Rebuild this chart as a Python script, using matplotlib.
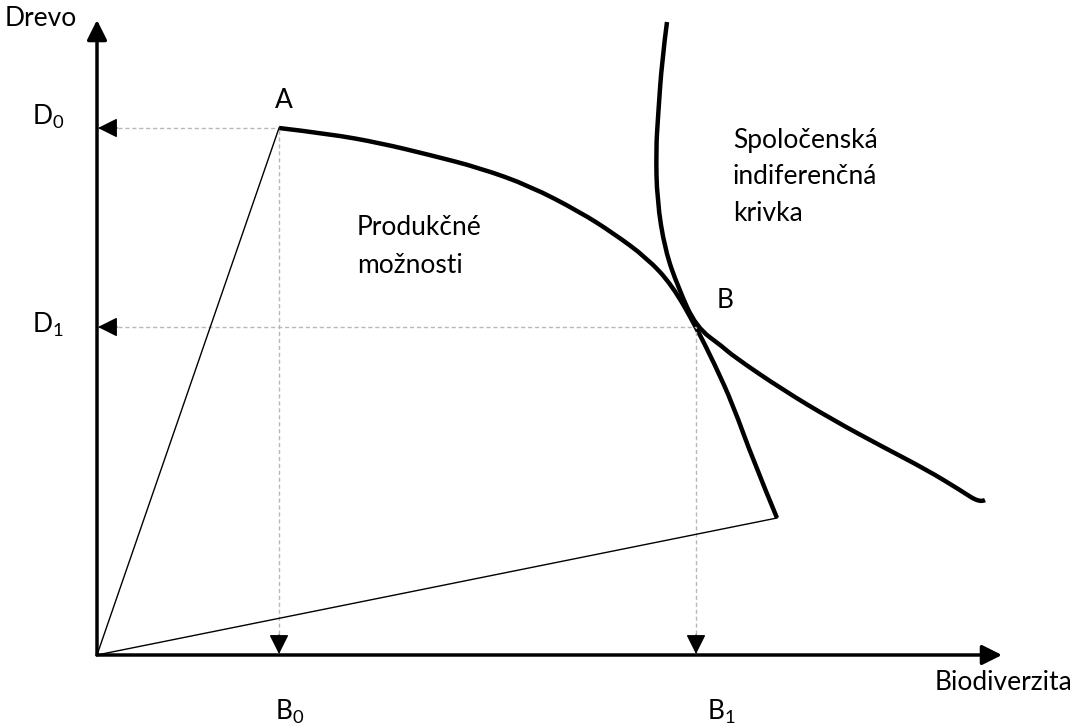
import matplotlib
matplotlib.use("Agg")
import matplotlib.pyplot as plt
from matplotlib.path import Path
from matplotlib.patches import PathPatch

plt.rcParams["font.family"] = ["Lato", "DejaVu Sans"]
plt.rcParams["mathtext.fontset"] = "custom"
plt.rcParams["mathtext.rm"] = "Lato"

# === data (origin of the diagram at 0,0) ===
ppf_x = [182, 233, 283, 333, 383, 433, 483, 516, 550, 575, 599, 618, 636, 656, 680]
ppf_y = [527, 521, 512, 500, 487, 469, 443, 422, 397, 370, 328, 290, 250, 195, 137]

ic_x = [570, 565, 561, 559, 560, 568, 581, 599, 626, 636, 686, 736, 786, 830, 863, 883, 888]
ic_y = [633, 595, 538, 505, 455, 405, 368, 328, 308, 299, 265, 235, 208, 185, 165, 152, 155]

point_a = (182, 527)
point_b = (599, 328)
ppf_end = (680, 137)
axis_top = 635
axis_right = 905


def smooth_path(xs, ys):
    # quadratic bezier through midpoints, keeps the end points
    pts = list(zip(xs, ys))
    verts = [pts[0]]
    codes = [Path.MOVETO]
    for i in range(1, len(pts) - 1):
        mid = ((pts[i][0] + pts[i + 1][0]) / 2, (pts[i][1] + pts[i + 1][1]) / 2)
        if i == len(pts) - 2:
            mid = pts[-1]
        verts += [pts[i], mid]
        codes += [Path.CURVE3, Path.CURVE3]
    return Path(verts, codes)


fig = plt.figure(figsize=(10.78, 7.25), dpi=100)
ax = fig.add_axes([0, 0, 1, 1])
ax.set_xlim(-97, 981)
ax.set_ylim(-70, 655)
ax.axis("off")

head = dict(arrowstyle="-|>,head_length=0.6,head_width=0.3", color="black",
            mutation_scale=20, shrinkA=0, shrinkB=0)

# axes with arrows
ax.annotate("", xy=(0, axis_top), xytext=(0, 0), arrowprops=dict(lw=2.5, **head))
ax.annotate("", xy=(axis_right, 0), xytext=(0, 0), arrowprops=dict(lw=2.5, **head))

# dashed guides with arrowheads at the axes
for px, py in [point_a, point_b]:
    ax.plot([0, px], [py, py], ls=(0, (3, 2)), color="#b8b8b8", lw=1)
    ax.plot([px, px], [0, py], ls=(0, (3, 2)), color="#b8b8b8", lw=1)
    ax.annotate("", xy=(1, py), xytext=(20, py), arrowprops=dict(lw=1, **head))
    ax.annotate("", xy=(px, 1), xytext=(px, 20), arrowprops=dict(lw=1, **head))

# thin rays from origin
ax.plot([0, point_a[0]], [0, point_a[1]], color="black", lw=1)
ax.plot([0, ppf_end[0]], [0, ppf_end[1]], color="black", lw=1)

# curves
for xs, ys in [(ppf_x, ppf_y), (ic_x, ic_y)]:
    ax.add_patch(PathPatch(smooth_path(xs, ys), fill=False, edgecolor="black",
                           lw=3.2, capstyle="butt", joinstyle="round"))

fs = 19
ax.text(-92, 637, "Drevo", fontsize=fs, va="center", ha="left")
ax.text(-65, 538, r"D$_\mathregular{0}$", fontsize=fs, va="center", ha="left")
ax.text(-65, 330, r"D$_\mathregular{1}$", fontsize=fs, va="center", ha="left")
ax.text(178, -57, r"B$_\mathregular{0}$", fontsize=fs, va="center", ha="left")
ax.text(610, -57, r"B$_\mathregular{1}$", fontsize=fs, va="center", ha="left")
ax.text(838, -28, "Biodiverzita", fontsize=fs, va="center", ha="left")
ax.text(187, 555, "A", fontsize=fs, va="center", ha="center")
ax.text(628, 355, "B", fontsize=fs, va="center", ha="center")
ax.text(260, 428, "Produkčné", fontsize=fs, va="center", ha="left")
ax.text(260, 390, "možnosti", fontsize=fs, va="center", ha="left")
ax.text(636, 515, "Spoločenská", fontsize=fs, va="center", ha="left")
ax.text(636, 478, "indiferenčná", fontsize=fs, va="center", ha="left")
ax.text(636, 442, "krivka", fontsize=fs, va="center", ha="left")

fig.savefig("out.png", dpi=100)
